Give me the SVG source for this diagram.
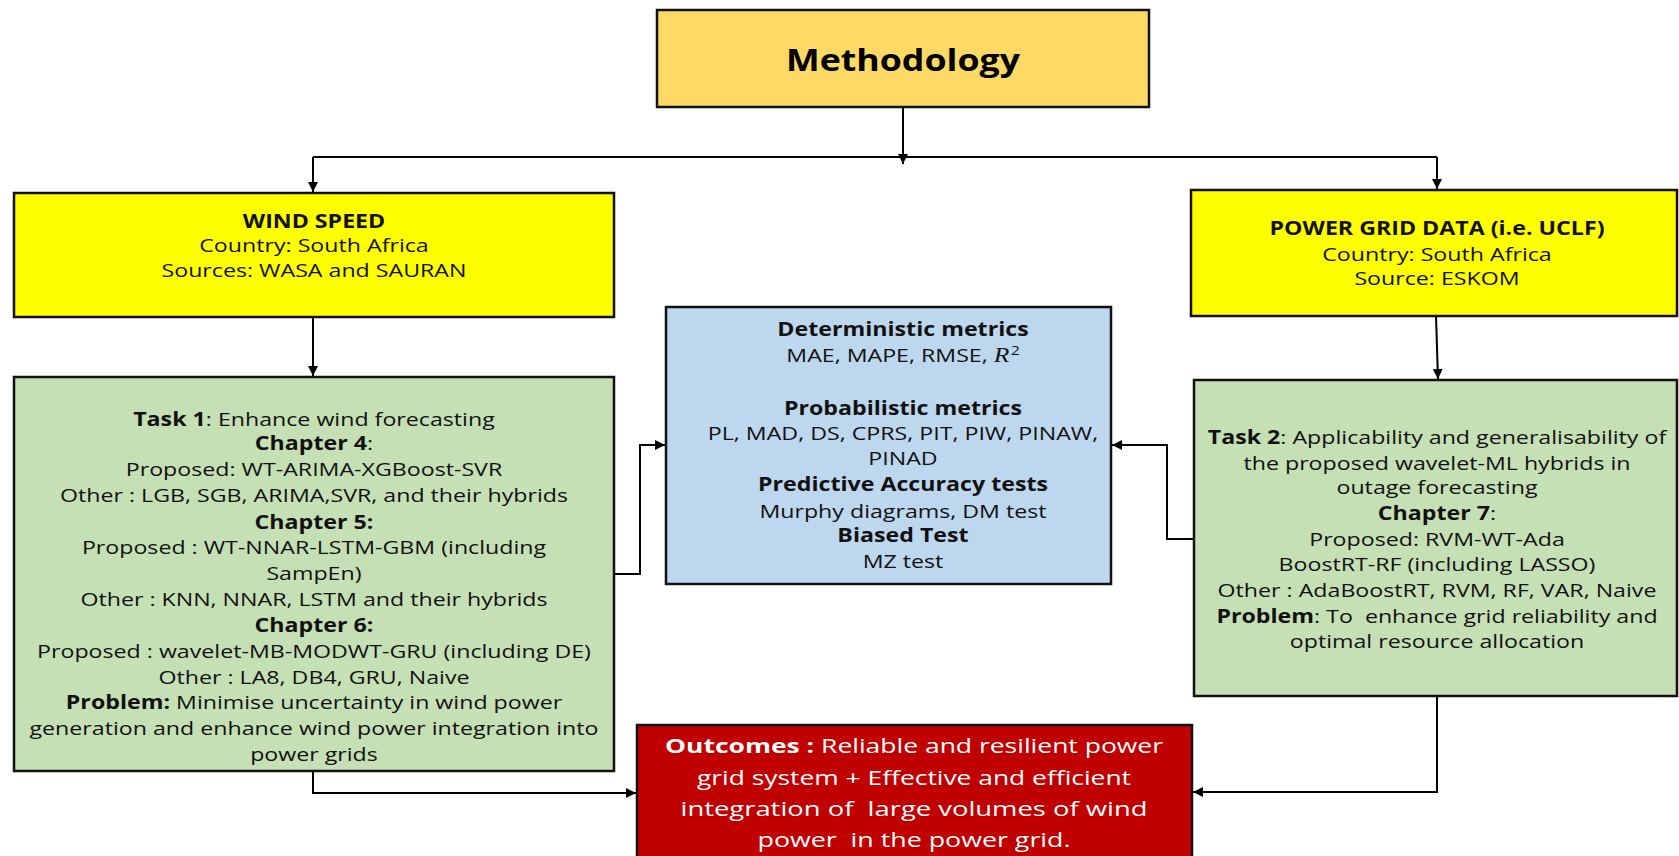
<svg xmlns="http://www.w3.org/2000/svg" width="1679" height="856" viewBox="0 0 1679 856">
  <style>
    .box { stroke: #111; stroke-width: 2.5; }
    .t { font-family: "Open Sans", "Noto Sans", sans-serif; font-size: 19px; fill: #111; text-anchor: middle; }
    .b { font-weight: bold; }
    .title { font-family: "Open Sans", "Noto Sans", sans-serif; font-size: 30px; font-weight: bold; fill: #000; text-anchor: middle; }
    .out { font-family: "Open Sans", "Noto Sans", sans-serif; font-size: 20px; fill: #fff; text-anchor: middle; }
    .link { fill: none; stroke: #000; stroke-width: 2; }
  </style>
  <defs>
    <marker id="arrow" viewBox="0 0 10 10" refX="10" refY="5" markerWidth="5" markerHeight="5" orient="auto" markerUnits="strokeWidth">
      <path d="M0,0 L10,5 L0,10 Z" fill="#000"/>
    </marker>
  </defs>
  <rect width="1679" height="856" fill="#fff"/>

  <g id="connectors">
    <path class="link" d="M903,107 V164" marker-end="url(#arrow)"/>
    <path class="link" d="M313,157 H1437"/>
    <path class="link" d="M313,157 V192" marker-end="url(#arrow)"/>
    <path class="link" d="M1437,157 V189" marker-end="url(#arrow)"/>
    <path class="link" d="M313,317 V376" marker-end="url(#arrow)"/>
    <path class="link" d="M1436,316 L1438,379" marker-end="url(#arrow)"/>
    <path class="link" d="M614,574 H640 V445 H665" marker-end="url(#arrow)"/>
    <path class="link" d="M1194,539 H1167 V445 H1112" marker-end="url(#arrow)"/>
    <path class="link" d="M313,771 V793 H636" marker-end="url(#arrow)"/>
    <path class="link" d="M1437,696 V792 H1193" marker-end="url(#arrow)"/>
  </g>

  <g id="methodology">
    <rect class="box" x="657" y="10" width="492" height="97" fill="#FFD966"/>
    <!-- wide lettering: horizontal stretch about the centre line x=903 -->
    <g transform="matrix(1.19,0,0,1,-171.57,0)">
      <text class="title" x="903" y="71">Methodology</text>
    </g>
  </g>

  <g id="wind-speed">
    <rect class="box" x="14" y="193" width="600" height="124" fill="#FFFF00"/>
    <g transform="matrix(1.22,0,0,1,-69.08,0)">
      <text class="t b" x="314" y="228">WIND SPEED</text>
      <text class="t" x="314" y="252">Country: South Africa</text>
      <text class="t" x="314" y="277">Sources: WASA and SAURAN</text>
    </g>
  </g>

  <g id="power-grid-data">
    <rect class="box" x="1191" y="190" width="486" height="126" fill="#FFFF00"/>
    <g transform="matrix(1.22,0,0,1,-316.14,0)">
      <text class="t b" x="1437" y="235">POWER GRID DATA (i.e. UCLF)</text>
      <text class="t" x="1437" y="261">Country: South Africa</text>
      <text class="t" x="1437" y="285">Source: ESKOM</text>
    </g>
  </g>

  <g id="task-1">
    <rect class="box" x="14" y="377" width="600" height="394" fill="#C5E0B4"/>
    <g transform="matrix(1.22,0,0,1,-69.08,0)">
      <text class="t" x="314" y="426"><tspan class="b">Task 1</tspan>: Enhance wind forecasting</text>
      <text class="t" x="314" y="450"><tspan class="b">Chapter 4</tspan>:</text>
      <text class="t" x="314" y="476">Proposed: WT-ARIMA-XGBoost-SVR</text>
      <text class="t" x="314" y="502">Other : LGB, SGB, ARIMA,SVR, and their hybrids</text>
      <text class="t b" x="314" y="529">Chapter 5:</text>
      <text class="t" x="314" y="554">Proposed : WT-NNAR-LSTM-GBM (including</text>
      <text class="t" x="314" y="580">SampEn)</text>
      <text class="t" x="314" y="606">Other : KNN, NNAR, LSTM and their hybrids</text>
      <text class="t b" x="314" y="632">Chapter 6:</text>
      <text class="t" x="314" y="658">Proposed : wavelet-MB-MODWT-GRU (including DE)</text>
      <text class="t" x="314" y="684">Other : LA8, DB4, GRU, Naive</text>
      <text class="t" x="314" y="709"><tspan class="b">Problem:</tspan> Minimise uncertainty in wind power</text>
      <text class="t" x="314" y="735">generation and enhance wind power integration into</text>
      <text class="t" x="314" y="761">power grids</text>
    </g>
  </g>

  <g id="metrics">
    <rect class="box" x="666" y="307" width="445" height="277" fill="#BDD7EE"/>
    <g transform="matrix(1.22,0,0,1,-198.66,0)">
      <text class="t b" x="903" y="336">Deterministic metrics</text>
      <text class="t" x="903" y="362">MAE, MAPE, RMSE, <tspan font-family="Liberation Serif, serif" font-style="italic" font-size="21">R</tspan><tspan font-size="13" dy="-7" dx="1">2</tspan></text>
      <text class="t b" x="903" y="415">Probabilistic metrics</text>
      <text class="t" x="903" y="440">PL, MAD, DS, CPRS, PIT, PIW, PINAW,</text>
      <text class="t" x="903" y="465">PINAD</text>
      <text class="t b" x="903" y="491">Predictive Accuracy tests</text>
      <text class="t" x="903" y="518">Murphy diagrams, DM test</text>
      <text class="t b" x="903" y="542">Biased Test</text>
      <text class="t" x="903" y="568">MZ test</text>
    </g>
  </g>

  <g id="task-2">
    <rect class="box" x="1194" y="380" width="483" height="316" fill="#C5E0B4"/>
    <g transform="matrix(1.22,0,0,1,-316.14,0)">
      <text class="t" x="1437" y="444"><tspan class="b">Task 2</tspan>: Applicability and generalisability of</text>
      <text class="t" x="1437" y="470">the proposed wavelet-ML hybrids in</text>
      <text class="t" x="1437" y="494">outage forecasting</text>
      <text class="t" x="1437" y="520"><tspan class="b">Chapter 7</tspan>:</text>
      <text class="t" x="1437" y="546">Proposed: RVM-WT-Ada</text>
      <text class="t" x="1437" y="571">BoostRT-RF (including LASSO)</text>
      <text class="t" x="1437" y="597">Other : AdaBoostRT, RVM, RF, VAR, Naive</text>
      <text class="t" x="1437" y="623" xml:space="preserve"><tspan class="b">Problem</tspan>: To  enhance grid reliability and</text>
      <text class="t" x="1437" y="648">optimal resource allocation</text>
    </g>
  </g>

  <g id="outcomes">
    <rect class="box" x="637" y="725" width="555" height="140" fill="#C00000"/>
    <text class="out" x="914" y="753" textLength="498" lengthAdjust="spacingAndGlyphs"><tspan font-weight="bold">Outcomes :</tspan> Reliable and resilient power</text>
    <text class="out" x="914" y="785" textLength="434" lengthAdjust="spacingAndGlyphs">grid system + Effective and efficient</text>
    <text class="out" x="914" y="816" textLength="467" lengthAdjust="spacingAndGlyphs" xml:space="preserve">integration of  large volumes of wind</text>
    <text class="out" x="914" y="847" textLength="313" lengthAdjust="spacingAndGlyphs" xml:space="preserve">power  in the power grid.</text>
  </g>
</svg>
